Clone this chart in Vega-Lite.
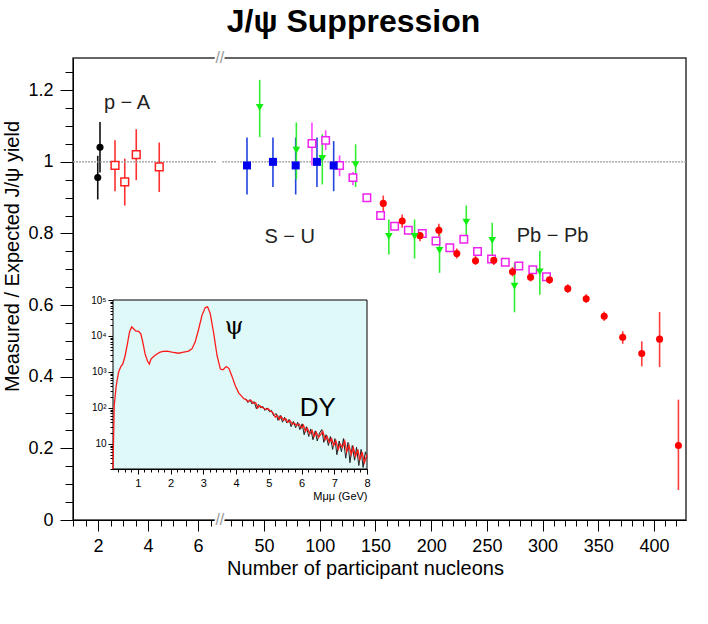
{
  "$schema": "https://vega.github.io/schema/vega-lite/v6.json",
  "width": 613,
  "height": 462,
  "autosize": {"type": "none"},
  "padding": {"left": 73, "top": 58, "right": 22, "bottom": 104},
  "title": {
    "text": "J/ψ Suppression",
    "font": "Liberation Sans",
    "fontSize": 32,
    "fontWeight": "bold",
    "color": "#000",
    "anchor": "middle",
    "dx": -26,
    "offset": 11
  },
  "datasets": {
    "points": [
      {"s": "pA_black", "n": 1.99, "r": 0.956, "lo": 0.895, "hi": 1.017},
      {"s": "pA_black", "n": 2.08, "r": 1.041, "lo": 0.97, "hi": 1.111},
      {"s": "pA_red", "n": 2.68, "r": 0.99, "lo": 0.918, "hi": 1.06},
      {"s": "pA_red", "n": 3.07, "r": 0.944, "lo": 0.878, "hi": 1.009},
      {"s": "pA_red", "n": 3.53, "r": 1.02, "lo": 0.949, "hi": 1.091},
      {"s": "pA_red", "n": 4.45, "r": 0.986, "lo": 0.916, "hi": 1.054},
      {"s": "SU", "n": 34.7, "r": 0.99, "lo": 0.909, "hi": 1.068},
      {"s": "SU", "n": 58, "r": 1.0, "lo": 0.93, "hi": 1.068},
      {"s": "SU", "n": 78.4, "r": 0.99, "lo": 0.909, "hi": 1.068},
      {"s": "SU", "n": 97.5, "r": 1.0, "lo": 0.93, "hi": 1.068},
      {"s": "SU", "n": 112.5, "r": 0.99, "lo": 0.918, "hi": 1.058},
      {"s": "green", "n": 46.1, "r": 1.152, "lo": 1.069, "hi": 1.229},
      {"s": "green", "n": 79, "r": 1.033, "lo": 0.951, "hi": 1.11},
      {"s": "green", "n": 102.3, "r": 1.01, "lo": 0.937, "hi": 1.077},
      {"s": "green", "n": 132.2, "r": 0.992, "lo": 0.93, "hi": 1.049},
      {"s": "green", "n": 162, "r": 0.792, "lo": 0.741, "hi": 0.839},
      {"s": "green", "n": 185.1, "r": 0.792, "lo": 0.73, "hi": 0.839},
      {"s": "green", "n": 207.5, "r": 0.753, "lo": 0.69, "hi": 0.82},
      {"s": "green", "n": 231.5, "r": 0.832, "lo": 0.792, "hi": 0.878},
      {"s": "green", "n": 254.8, "r": 0.781, "lo": 0.735, "hi": 0.83},
      {"s": "green", "n": 274.8, "r": 0.653, "lo": 0.58, "hi": 0.718},
      {"s": "green", "n": 297.5, "r": 0.693, "lo": 0.629, "hi": 0.751},
      {"s": "magenta", "n": 93, "r": 1.051, "lo": 0.99, "hi": 1.11},
      {"s": "magenta", "n": 105.3, "r": 1.06, "lo": 1.033, "hi": 1.088},
      {"s": "magenta", "n": 117.8, "r": 0.99, "lo": 0.96, "hi": 1.018},
      {"s": "magenta", "n": 129.8, "r": 0.956, "lo": 0.935, "hi": 0.972},
      {"s": "magenta", "n": 142.3, "r": 0.9, "lo": 0.892, "hi": 0.908},
      {"s": "magenta", "n": 154.6, "r": 0.85, "lo": 0.842, "hi": 0.858},
      {"s": "magenta", "n": 167.2, "r": 0.82, "lo": 0.812, "hi": 0.828},
      {"s": "magenta", "n": 179.5, "r": 0.809, "lo": 0.801, "hi": 0.817},
      {"s": "magenta", "n": 192, "r": 0.8, "lo": 0.792, "hi": 0.808},
      {"s": "magenta", "n": 204.3, "r": 0.779, "lo": 0.771, "hi": 0.787},
      {"s": "magenta", "n": 216.7, "r": 0.76, "lo": 0.752, "hi": 0.768},
      {"s": "magenta", "n": 229.3, "r": 0.784, "lo": 0.776, "hi": 0.792},
      {"s": "magenta", "n": 241.6, "r": 0.75, "lo": 0.742, "hi": 0.758},
      {"s": "magenta", "n": 254.2, "r": 0.729, "lo": 0.721, "hi": 0.737},
      {"s": "magenta", "n": 266.5, "r": 0.72, "lo": 0.712, "hi": 0.728},
      {"s": "magenta", "n": 278.7, "r": 0.709, "lo": 0.701, "hi": 0.717},
      {"s": "magenta", "n": 291.2, "r": 0.699, "lo": 0.691, "hi": 0.707},
      {"s": "magenta", "n": 303.5, "r": 0.679, "lo": 0.671, "hi": 0.687},
      {"s": "PbPb", "n": 157, "r": 0.884, "lo": 0.862, "hi": 0.906},
      {"s": "PbPb", "n": 174, "r": 0.835, "lo": 0.816, "hi": 0.853},
      {"s": "PbPb", "n": 190, "r": 0.794, "lo": 0.778, "hi": 0.81},
      {"s": "PbPb", "n": 206.9, "r": 0.809, "lo": 0.792, "hi": 0.827},
      {"s": "PbPb", "n": 223, "r": 0.744, "lo": 0.73, "hi": 0.758},
      {"s": "PbPb", "n": 239.8, "r": 0.724, "lo": 0.712, "hi": 0.737},
      {"s": "PbPb", "n": 256.2, "r": 0.725, "lo": 0.712, "hi": 0.738},
      {"s": "PbPb", "n": 273, "r": 0.693, "lo": 0.68, "hi": 0.706},
      {"s": "PbPb", "n": 289.2, "r": 0.678, "lo": 0.666, "hi": 0.69},
      {"s": "PbPb", "n": 306.2, "r": 0.671, "lo": 0.659, "hi": 0.683},
      {"s": "PbPb", "n": 322.6, "r": 0.646, "lo": 0.634, "hi": 0.658},
      {"s": "PbPb", "n": 339.1, "r": 0.618, "lo": 0.606, "hi": 0.63},
      {"s": "PbPb", "n": 355.3, "r": 0.569, "lo": 0.556, "hi": 0.582},
      {"s": "PbPb", "n": 371.9, "r": 0.51, "lo": 0.492, "hi": 0.527},
      {"s": "PbPb", "n": 389, "r": 0.465, "lo": 0.429, "hi": 0.499},
      {"s": "PbPb", "n": 405, "r": 0.505, "lo": 0.427, "hi": 0.581},
      {"s": "PbPb", "n": 421.9, "r": 0.208, "lo": 0.084, "hi": 0.336}
    ],
    "fit": [
      {"m": 0.24, "c": 2}, {"m": 0.276, "c": 112}, {"m": 0.337, "c": 407}, {"m": 0.41, "c": 977},
      {"m": 0.48, "c": 1413}, {"m": 0.54, "c": 1660}, {"m": 0.61, "c": 2818}, {"m": 0.68, "c": 6026},
      {"m": 0.745, "c": 12882}, {"m": 0.81, "c": 17783}, {"m": 0.87, "c": 15849}, {"m": 0.93, "c": 13804},
      {"m": 1.02, "c": 13490}, {"m": 1.09, "c": 11482}, {"m": 1.15, "c": 6761}, {"m": 1.22, "c": 3162},
      {"m": 1.3, "c": 1950}, {"m": 1.35, "c": 1660}, {"m": 1.4, "c": 2291}, {"m": 1.48, "c": 2692},
      {"m": 1.58, "c": 3162}, {"m": 1.68, "c": 3548}, {"m": 1.78, "c": 3715}, {"m": 1.89, "c": 3802},
      {"m": 2.04, "c": 3548}, {"m": 2.24, "c": 3311}, {"m": 2.4, "c": 3548}, {"m": 2.55, "c": 3802},
      {"m": 2.65, "c": 4365}, {"m": 2.75, "c": 6761}, {"m": 2.86, "c": 15849}, {"m": 2.96, "c": 38019},
      {"m": 3.06, "c": 61660}, {"m": 3.13, "c": 64565}, {"m": 3.21, "c": 42658}, {"m": 3.31, "c": 12882},
      {"m": 3.42, "c": 2818}, {"m": 3.52, "c": 1202}, {"m": 3.6, "c": 1148}, {"m": 3.7, "c": 1413},
      {"m": 3.78, "c": 1259}, {"m": 3.87, "c": 776}, {"m": 3.98, "c": 407}, {"m": 4.08, "c": 263},
      {"m": 4.16, "c": 215}, {"m": 4.23, "c": 182}, {"m": 4.3, "c": 170}, {"m": 4.38, "c": 150},
      {"m": 4.45, "c": 165}, {"m": 4.52, "c": 135}, {"m": 4.6, "c": 140}, {"m": 4.66, "c": 100},
      {"m": 4.72, "c": 115}, {"m": 4.78, "c": 105}, {"m": 4.85, "c": 98}, {"m": 4.92, "c": 90},
      {"m": 4.98, "c": 95}, {"m": 5.05, "c": 82}, {"m": 5.12, "c": 75}, {"m": 5.2, "c": 55},
      {"m": 5.26, "c": 62}, {"m": 5.32, "c": 48}, {"m": 5.38, "c": 58}, {"m": 5.45, "c": 45},
      {"m": 5.52, "c": 50}, {"m": 5.58, "c": 40}, {"m": 5.65, "c": 44}, {"m": 5.72, "c": 35},
      {"m": 5.78, "c": 38}, {"m": 5.85, "c": 32}, {"m": 5.92, "c": 36}, {"m": 6.0, "c": 28},
      {"m": 6.06, "c": 33}, {"m": 6.12, "c": 22}, {"m": 6.18, "c": 27}, {"m": 6.25, "c": 19},
      {"m": 6.32, "c": 24}, {"m": 6.38, "c": 16}, {"m": 6.45, "c": 21}, {"m": 6.52, "c": 15},
      {"m": 6.58, "c": 18}, {"m": 6.65, "c": 22}, {"m": 6.72, "c": 13}, {"m": 6.78, "c": 16},
      {"m": 6.85, "c": 11}, {"m": 6.92, "c": 14}, {"m": 6.98, "c": 9}, {"m": 7.05, "c": 12},
      {"m": 7.12, "c": 7}, {"m": 7.18, "c": 10}, {"m": 7.25, "c": 8}, {"m": 7.32, "c": 12},
      {"m": 7.38, "c": 6}, {"m": 7.45, "c": 9}, {"m": 7.52, "c": 5}, {"m": 7.58, "c": 8},
      {"m": 7.65, "c": 4.5}, {"m": 7.72, "c": 7}, {"m": 7.78, "c": 3.5}, {"m": 7.85, "c": 6},
      {"m": 7.92, "c": 3}, {"m": 8.0, "c": 5}
    ],
    "hist": [
      {"m": 4.3, "c": 180}, {"m": 4.36, "c": 140}, {"m": 4.42, "c": 170}, {"m": 4.48, "c": 130},
      {"m": 4.55, "c": 150}, {"m": 4.62, "c": 95}, {"m": 4.68, "c": 125}, {"m": 4.75, "c": 100},
      {"m": 4.82, "c": 110}, {"m": 4.88, "c": 85}, {"m": 4.95, "c": 100}, {"m": 5.02, "c": 78},
      {"m": 5.08, "c": 85}, {"m": 5.15, "c": 60}, {"m": 5.22, "c": 70}, {"m": 5.28, "c": 45},
      {"m": 5.35, "c": 62}, {"m": 5.42, "c": 40}, {"m": 5.48, "c": 55}, {"m": 5.55, "c": 38},
      {"m": 5.62, "c": 48}, {"m": 5.68, "c": 30}, {"m": 5.75, "c": 42}, {"m": 5.82, "c": 28},
      {"m": 5.88, "c": 40}, {"m": 5.95, "c": 25}, {"m": 6.02, "c": 36}, {"m": 6.08, "c": 18},
      {"m": 6.15, "c": 30}, {"m": 6.22, "c": 16}, {"m": 6.28, "c": 26}, {"m": 6.35, "c": 13},
      {"m": 6.42, "c": 23}, {"m": 6.48, "c": 12}, {"m": 6.55, "c": 20}, {"m": 6.62, "c": 25},
      {"m": 6.68, "c": 11}, {"m": 6.75, "c": 18}, {"m": 6.82, "c": 9}, {"m": 6.88, "c": 16},
      {"m": 6.95, "c": 7}, {"m": 7.02, "c": 14}, {"m": 7.08, "c": 5}, {"m": 7.15, "c": 12},
      {"m": 7.22, "c": 6}, {"m": 7.28, "c": 14}, {"m": 7.35, "c": 4}, {"m": 7.42, "c": 11},
      {"m": 7.48, "c": 3}, {"m": 7.55, "c": 9}, {"m": 7.62, "c": 3.5}, {"m": 7.68, "c": 8},
      {"m": 7.75, "c": 2.5}, {"m": 7.82, "c": 7}, {"m": 7.88, "c": 2.2}, {"m": 7.95, "c": 6},
      {"m": 8.0, "c": 4}
    ]
  },
  "layer": [
    {
      "layer": [
        {
          "data": {"name": "points"},
          "mark": {"type": "rule", "strokeWidth": 1.6},
          "encoding": {
            "x": {
              "field": "n",
              "type": "quantitative",
              "scale": {"type": "linear", "domain": [1, 6.8, 12, 428.7], "range": [0, 145, 148.7, 613], "nice": false, "zero": false},
              "axis": {
                "orient": "bottom",
                "title": "Number of participant nucleons",
                "values": [2, 4, 6, 50, 100, 150, 200, 250, 300, 350, 400],
                "format": "d",
                "tickSize": 11,
                "labelOverlap": false,
                "labelFlush": false,
                "labelPadding": 6,
                "titleX": 292,
                "titlePadding": 3
              }
            },
            "y": {
              "field": "lo",
              "type": "quantitative",
              "scale": {"domain": [0, 1.29], "nice": false, "zero": false},
              "axis": {
                "orient": "left",
                "title": "Measured / Expected J/ψ yield",
                "values": [0, 0.2, 0.4, 0.6, 0.8, 1, 1.2],
                "format": "~g",
                "tickSize": 13,
                "labelOverlap": false,
                "labelFlush": false,
                "labelPadding": 7,
                "titleY": 198,
                "titlePadding": 5
              }
            },
            "y2": {"field": "hi"},
            "color": {
              "field": "s",
              "type": "nominal",
              "scale": {
                "domain": ["pA_black", "pA_red", "SU", "green", "magenta", "PbPb"],
                "range": ["#111111", "#ff3030", "#2244dd", "#33ee33", "#ff44ff", "#ff3b3b"]
              },
              "legend": null
            }
          }
        },
        {
          "data": {"values": [{"a": 1, "b": 6.75}, {"a": 12.4, "b": 428.7}]},
          "mark": {"type": "rule", "color": "#999999", "strokeWidth": 1.2, "strokeDash": [2, 1]},
          "encoding": {
            "x": {
              "field": "a",
              "type": "quantitative",
              "axis": {
                "orient": "bottom",
                "title": null,
                "labels": false,
                "domain": false,
                "tickSize": 6,
                "values": [1, 1.5, 2, 2.5, 3, 3.5, 4, 4.5, 5, 5.5, 6, 6.5, 20, 30, 40, 50, 60, 70, 80, 90, 100, 110, 120, 130, 140, 150, 160, 170, 180, 190, 200, 210, 220, 230, 240, 250, 260, 270, 280, 290, 300, 310, 320, 330, 340, 350, 360, 370, 380, 390, 400, 410, 420]
              }
            },
            "x2": {"field": "b"},
            "y": {
              "datum": 1,
              "type": "quantitative",
              "axis": {
                "orient": "left",
                "title": null,
                "labels": false,
                "domain": false,
                "tickSize": 8,
                "values": [0, 0.05, 0.1, 0.15, 0.2, 0.25, 0.3, 0.35, 0.4, 0.45, 0.5, 0.55, 0.6, 0.65, 0.7, 0.75, 0.8, 0.85, 0.9, 0.95, 1, 1.05, 1.1, 1.15, 1.2, 1.25]
              }
            }
          }
        },
        {
          "data": {"name": "points"},
          "transform": [{"filter": "datum.s == 'magenta'"}],
          "mark": {"type": "point", "shape": "square", "size": 56, "fill": "white", "stroke": "#ee22ee", "strokeWidth": 1.5, "opacity": 1},
          "encoding": {"x": {"field": "n", "type": "quantitative", "axis": null}, "y": {"field": "r", "type": "quantitative", "axis": null}}
        },
        {
          "data": {"name": "points"},
          "transform": [{"filter": "datum.s == 'pA_red'"}],
          "mark": {"type": "point", "shape": "square", "size": 60, "fill": "white", "stroke": "#ff2020", "strokeWidth": 1.5, "opacity": 1},
          "encoding": {"x": {"field": "n", "type": "quantitative", "axis": null}, "y": {"field": "r", "type": "quantitative", "axis": null}}
        },
        {
          "data": {"name": "points"},
          "transform": [{"filter": "datum.s == 'pA_black'"}],
          "mark": {"type": "point", "shape": "circle", "size": 50, "filled": true, "color": "#000000", "opacity": 1},
          "encoding": {"x": {"field": "n", "type": "quantitative", "axis": null}, "y": {"field": "r", "type": "quantitative", "axis": null}}
        },
        {
          "data": {"name": "points"},
          "transform": [{"filter": "datum.s == 'SU'"}],
          "mark": {"type": "point", "shape": "square", "size": 64, "filled": true, "color": "#0000ee", "opacity": 1},
          "encoding": {"x": {"field": "n", "type": "quantitative", "axis": null}, "y": {"field": "r", "type": "quantitative", "axis": null}}
        },
        {
          "data": {"name": "points"},
          "transform": [{"filter": "datum.s == 'PbPb'"}],
          "mark": {"type": "point", "shape": "circle", "size": 50, "filled": true, "color": "#ff0000", "opacity": 1},
          "encoding": {"x": {"field": "n", "type": "quantitative", "axis": null}, "y": {"field": "r", "type": "quantitative", "axis": null}}
        },
        {
          "data": {"name": "points"},
          "transform": [{"filter": "datum.s == 'green'"}],
          "mark": {"type": "point", "shape": "triangle-down", "size": 60, "filled": true, "color": "#11ee11", "opacity": 1},
          "encoding": {"x": {"field": "n", "type": "quantitative", "axis": null}, "y": {"field": "r", "type": "quantitative", "axis": null}}
        },
        {
          "data": {"values": [{"t": "p − A", "a": 3.16, "b": 1.164}, {"t": "S − U", "a": 73, "b": 0.789}, {"t": "Pb − Pb", "a": 308.9, "b": 0.794}]},
          "mark": {"type": "text", "font": "Liberation Sans", "fontSize": 20, "color": "#222222", "baseline": "middle"},
          "encoding": {
            "x": {"field": "a", "type": "quantitative", "axis": null},
            "y": {"field": "b", "type": "quantitative", "axis": null},
            "text": {"field": "t"}
          }
        },
        {
          "data": {"values": [{"b": 0}, {"b": 1.29}]},
          "mark": {"type": "text", "text": "//", "font": "Liberation Sans", "fontSize": 16, "color": "white", "stroke": "white", "strokeWidth": 4, "baseline": "middle"},
          "encoding": {"x": {"datum": 9.4, "axis": null}, "y": {"field": "b", "type": "quantitative", "axis": null}}
        },
        {
          "data": {"values": [{"b": 0}, {"b": 1.29}]},
          "mark": {"type": "text", "text": "//", "font": "Liberation Sans", "fontSize": 16, "color": "#999999", "baseline": "middle"},
          "encoding": {"x": {"datum": 9.4, "axis": null}, "y": {"field": "b", "type": "quantitative", "axis": null}}
        }
      ],
      "resolve": {"axis": {"x": "independent", "y": "independent"}}
    },
    {
      "layer": [
        {
          "data": {"values": [{}]},
          "mark": {"type": "rect", "fill": "#dff8f8", "stroke": "#000000", "strokeWidth": 1},
          "encoding": {
            "x": {
              "datum": 0.24,
              "type": "quantitative",
              "scale": {"domain": [0.24, 8], "range": [40, 294], "nice": false, "zero": false},
              "axis": {
                "orient": "bottom",
                "offset": -51,
                "title": "Mμμ (GeV)",
                "titleAnchor": "end",
                "titleFontSize": 11,
                "titleFontWeight": "normal",
                "titlePadding": 2,
                "values": [1, 2, 3, 4, 5, 6, 7, 8],
                "format": "d",
                "tickSize": 5,
                "labelFontSize": 11,
                "labelPadding": 3,
                "labelOverlap": false,
                "labelFlush": false
              }
            },
            "x2": {"datum": 8},
            "y": {
              "datum": 2,
              "type": "quantitative",
              "scale": {"type": "log", "domain": [2, 100000], "range": [411, 242], "nice": false},
              "axis": {
                "orient": "left",
                "offset": -40,
                "title": null,
                "values": [10, 100, 1000, 10000, 100000],
                "labelExpr": "datum.value == 10 ? '10' : datum.value == 100 ? '10²' : datum.value == 1000 ? '10³' : datum.value == 10000 ? '10⁴' : '10⁵'",
                "tickSize": 5,
                "labelFontSize": 10,
                "labelPadding": 2,
                "labelOverlap": false,
                "labelFlush": false
              }
            },
            "y2": {"datum": 100000}
          }
        },
        {
          "data": {"name": "hist"},
          "mark": {"type": "line", "color": "#222222", "strokeWidth": 1, "clip": true},
          "encoding": {
            "x": {
              "field": "m",
              "type": "quantitative",
              "axis": {
                "orient": "bottom",
                "offset": -51,
                "title": null,
                "labels": false,
                "domain": false,
                "tickSize": 3,
                "values": [0.4, 0.6, 0.8, 1, 1.2, 1.4, 1.6, 1.8, 2, 2.2, 2.4, 2.6, 2.8, 3, 3.2, 3.4, 3.6, 3.8, 4, 4.2, 4.4, 4.6, 4.8, 5, 5.2, 5.4, 5.6, 5.8, 6, 6.2, 6.4, 6.6, 6.8, 7, 7.2, 7.4, 7.6, 7.8, 8]
              }
            },
            "y": {
              "field": "c",
              "type": "quantitative",
              "axis": {
                "orient": "left",
                "offset": -40,
                "title": null,
                "labels": false,
                "domain": false,
                "tickSize": 3,
                "values": [2, 3, 4, 5, 6, 7, 8, 9, 20, 30, 40, 50, 60, 70, 80, 90, 200, 300, 400, 500, 600, 700, 800, 900, 2000, 3000, 4000, 5000, 6000, 7000, 8000, 9000, 20000, 30000, 40000, 50000, 60000, 70000, 80000, 90000]
              }
            }
          }
        },
        {
          "data": {"name": "fit"},
          "mark": {"type": "line", "color": "#ff1a1a", "strokeWidth": 1.3, "clip": true},
          "encoding": {"x": {"field": "m", "type": "quantitative", "axis": null}, "y": {"field": "c", "type": "quantitative", "axis": null}}
        },
        {
          "data": {"values": [{"t": "ψ", "a": 3.94, "b": 17800}]},
          "mark": {"type": "text", "font": "DejaVu Serif", "fontSize": 24, "color": "#000000", "baseline": "middle"},
          "encoding": {
            "x": {"field": "a", "type": "quantitative", "axis": null},
            "y": {"field": "b", "type": "quantitative", "axis": null},
            "text": {"field": "t"}
          }
        },
        {
          "data": {"values": [{"t": "DY", "a": 6.5, "b": 100}]},
          "mark": {"type": "text", "font": "Liberation Sans", "fontSize": 26, "color": "#000000", "baseline": "middle"},
          "encoding": {
            "x": {"field": "a", "type": "quantitative", "axis": null},
            "y": {"field": "b", "type": "quantitative", "axis": null},
            "text": {"field": "t"}
          }
        }
      ],
      "resolve": {"axis": {"x": "independent", "y": "independent"}}
    }
  ],
  "resolve": {"scale": {"x": "independent", "y": "independent"}},
  "config": {
    "font": "Liberation Sans",
    "view": {"stroke": "#333333", "strokeWidth": 1.5},
    "axis": {
      "grid": false,
      "domainColor": "#000000",
      "tickColor": "#000000",
      "labelColor": "#000000",
      "titleColor": "#000000",
      "labelFont": "Liberation Sans",
      "titleFont": "Liberation Sans",
      "labelFontSize": 18,
      "titleFontSize": 20,
      "titleFontWeight": "normal"
    }
  }
}
